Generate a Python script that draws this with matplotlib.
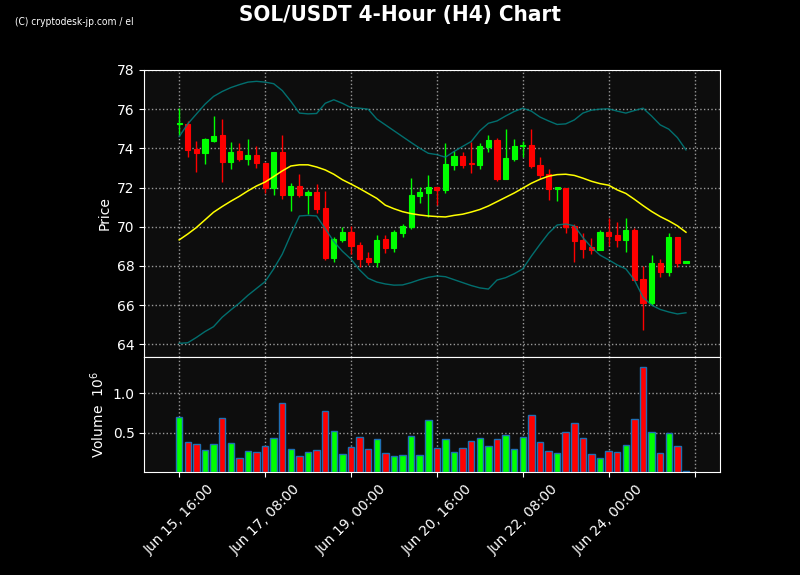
import numpy as np
import pandas as pd
import matplotlib
matplotlib.use("Agg")
import matplotlib.pyplot as plt

# H4 candles
opens = [75.22, 75.25, 73.99, 73.74, 74.40, 74.69, 73.28, 73.87, 73.48, 73.67,
         73.26, 72.00, 73.82, 71.62, 72.08, 71.62, 71.78, 70.96, 68.42, 69.33,
         69.74, 69.07, 68.39, 68.22, 69.36, 68.93, 69.70, 70.01, 71.59, 71.74,
         72.02, 71.85, 73.17, 73.62, 73.25, 73.17, 74.09, 74.43, 72.44, 73.46,
         74.11, 74.18, 73.16, 72.70, 71.95, 72.00, 70.06, 69.34, 68.99, 68.82,
         69.74, 69.58, 69.33, 69.84, 67.34, 66.13, 68.14, 67.71, 69.48, 68.17]
highs = [76.05, 75.42, 74.40, 74.52, 75.66, 75.49, 74.31, 74.26, 74.47, 74.11,
         73.26, 73.82, 74.67, 72.22, 72.70, 71.88, 72.19, 71.81, 69.50, 69.97,
         70.06, 69.24, 68.73, 69.58, 69.58, 69.84, 70.13, 72.48, 72.05, 72.63,
         72.02, 74.26, 73.84, 73.79, 74.35, 74.26, 74.69, 74.52, 74.98, 74.47,
         74.38, 74.98, 73.55, 72.94, 72.03, 72.00, 70.14, 69.67, 69.41, 69.84,
         70.45, 70.23, 70.45, 69.92, 68.02, 68.54, 68.34, 69.67, 69.48, 68.24]
lows = [74.70, 73.58, 72.78, 73.19, 74.30, 72.29, 72.97, 73.38, 73.14, 72.99,
        71.71, 71.62, 71.40, 70.82, 71.54, 70.64, 70.72, 68.31, 68.22, 69.23,
        68.61, 67.96, 68.05, 67.97, 68.65, 68.73, 69.46, 69.87, 71.20, 70.48,
        71.11, 71.71, 72.90, 72.99, 72.73, 72.93, 73.79, 72.34, 72.44, 73.33,
        73.54, 72.99, 72.42, 71.35, 71.30, 69.67, 68.19, 68.39, 68.61, 68.82,
        69.04, 68.99, 68.73, 67.28, 64.73, 66.01, 67.42, 67.51, 67.97, 68.16]
closes = [75.28, 73.92, 73.74, 74.48, 74.64, 73.28, 73.82, 73.46, 73.67, 73.23,
          72.00, 73.82, 71.62, 72.08, 71.62, 71.78, 70.91, 68.42, 69.38, 69.74,
          69.04, 68.37, 68.22, 69.33, 68.93, 69.74, 70.04, 71.62, 71.78, 72.03,
          71.85, 73.21, 73.62, 73.17, 73.21, 74.13, 74.43, 72.44, 73.53, 74.13,
          74.19, 73.12, 72.65, 71.93, 72.03, 70.01, 69.29, 68.86, 68.82, 69.74,
          69.53, 69.33, 69.84, 67.28, 66.13, 68.14, 67.71, 69.48, 68.17, 68.23]
volumes = [0.695, 0.377, 0.352, 0.275, 0.352, 0.682, 0.364, 0.174, 0.263, 0.250,
           0.326, 0.428, 0.873, 0.288, 0.203, 0.250, 0.275, 0.771, 0.517, 0.225,
           0.314, 0.441, 0.288, 0.415, 0.237, 0.199, 0.212, 0.453, 0.212, 0.657,
           0.300, 0.415, 0.250, 0.300, 0.400, 0.428, 0.326, 0.415, 0.466, 0.288,
           0.441, 0.720, 0.377, 0.263, 0.237, 0.504, 0.619, 0.428, 0.225, 0.174,
           0.263, 0.250, 0.339, 0.669, 1.331, 0.504, 0.237, 0.490, 0.326, 0.013]

# 20-period SMA and Bollinger bands as drawn (include history before the window)
sma = [69.33, 69.63, 69.96, 70.35, 70.74, 71.03, 71.30, 71.55, 71.83, 72.08,
       72.28, 72.56, 72.85, 73.10, 73.16, 73.16, 73.05, 72.90, 72.68, 72.40,
       72.18, 71.95, 71.70, 71.45, 71.10, 70.92, 70.77, 70.67, 70.60, 70.55,
       70.52, 70.50, 70.58, 70.64, 70.75, 70.88, 71.06, 71.28, 71.50, 71.72,
       71.97, 72.22, 72.42, 72.58, 72.66, 72.68, 72.62, 72.48, 72.32, 72.20,
       72.12, 71.88, 71.70, 71.40, 71.08, 70.78, 70.52, 70.30, 70.05, 69.72]
upper = [74.60, 75.25, 75.75, 76.25, 76.65, 76.90, 77.10, 77.25, 77.38, 77.42,
         77.38, 77.30, 76.95, 76.40, 75.80, 75.76, 75.78, 76.30, 76.48, 76.30,
         76.08, 76.05, 76.00, 75.50, 75.20, 74.90, 74.60, 74.30, 74.01, 73.75,
         73.68, 73.55, 73.84, 74.10, 74.35, 74.90, 75.28, 75.40, 75.65, 75.88,
         76.05, 75.90, 75.60, 75.40, 75.22, 75.25, 75.45, 75.80, 75.95, 76.00,
         76.02, 75.90, 75.80, 75.93, 76.05, 75.65, 75.20, 74.98, 74.55, 73.92]
lower = [64.05, 64.08, 64.35, 64.65, 64.90, 65.38, 65.75, 66.10, 66.50, 66.85,
         67.20, 67.85, 68.60, 69.60, 70.55, 70.58, 70.55, 69.90, 69.25, 68.75,
         68.35, 67.80, 67.37, 67.18, 67.08, 67.02, 67.03, 67.15, 67.30, 67.42,
         67.49, 67.45, 67.30, 67.15, 67.00, 66.88, 66.82, 67.28, 67.40, 67.60,
         67.85, 68.50, 69.10, 69.67, 70.09, 70.14, 70.05, 69.45, 68.95, 68.55,
         68.31, 68.05, 67.85, 67.28, 66.40, 66.00, 65.78, 65.65, 65.55, 65.61]

dates = pd.date_range("2025-06-15 16:00", periods=60, freq="4h")

GREEN, RED = "#00ff00", "#ff0000"
BG = "#0d0d0d"


def style(ax):
    ax.set_facecolor(BG)
    for s in ax.spines.values():
        s.set_color("white")
    ax.tick_params(colors="white", labelsize=10)
    ax.grid(True, ls=":", color="#999999", lw=1)
    ax.set_axisbelow(True)


fig = plt.figure(figsize=(8, 5.75), dpi=100, facecolor="black")
axP = fig.add_axes([0.1805, 0.3797, 0.7199, 0.4986])
axV = fig.add_axes([0.1805, 0.1791, 0.7199, 0.2006], sharex=axP)
style(axP); style(axV)

x = np.arange(len(closes))
o, h, l, c = map(np.array, (opens, highs, lows, closes))
cols = [GREEN if cc >= oo else RED for oo, cc in zip(o, c)]

# candles
axP.vlines(x, l, h, colors=cols, lw=1, zorder=2)
body = np.maximum(np.abs(c - o), 0.02)
axP.bar(x, body, 0.6, bottom=np.minimum(o, c), color=cols, edgecolor=cols, lw=0.8, zorder=3)
axP.plot(x, sma, color="yellow", lw=1.1, zorder=4)
axP.plot(x, upper, color="teal", lw=1, alpha=0.85, zorder=4)
axP.plot(x, lower, color="teal", lw=1, alpha=0.85, zorder=4)
axP.set_ylim(63.37, 78.0)
axP.set_yticks(np.arange(64, 79, 2))
axP.set_ylabel("Price", color="white", fontsize=10)
axP.tick_params(axis="x", labelbottom=False, length=0)

# volume
axV.bar(x, volumes, 0.75, color=cols, edgecolor="#1f6fb4", lw=1, zorder=3)
axV.set_ylim(0, max(volumes) * 1.1)
axV.set_yticks([0.5, 1.0])
axV.set_ylabel("Volume  $10^{6}$", color="white", fontsize=10)

ticks = np.arange(0, 61, 10)
axV.set_xticks(ticks)
axV.set_xticklabels([dates[t].strftime("%b %d, %H:%M") if t < len(dates) else "" for t in ticks],
                    rotation=45, ha="center")
axP.set_xlim(-4.05, 63.0)

fig.suptitle("SOL/USDT 4-Hour (H4) Chart", color="white", fontsize=16, fontweight="bold",
             fontstretch="condensed", y=0.992)
fig.text(0.019, 0.962, "(C) cryptodesk-jp.com / el", color="white", fontsize=7.3,
         family=["Liberation Sans Narrow", "DejaVu Sans"], fontstretch="condensed", va="center")

fig.savefig("out.png", dpi=100, facecolor="black")
